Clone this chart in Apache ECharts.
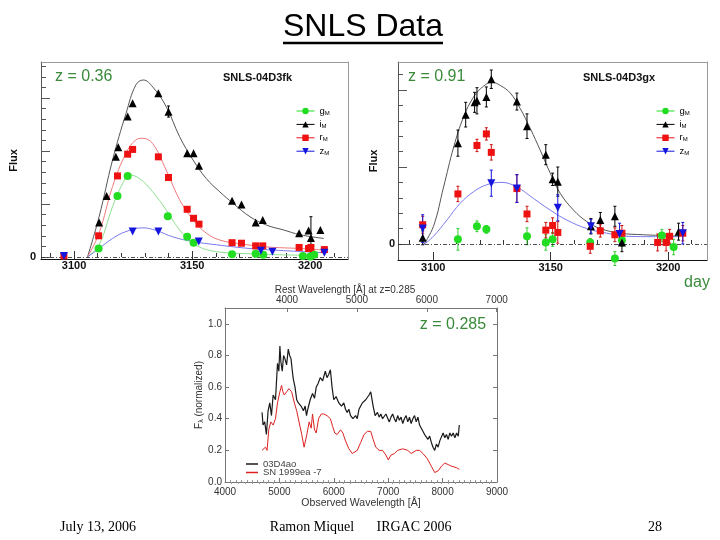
<!DOCTYPE html>
<html><head><meta charset="utf-8">
<script src="https://cdn.jsdelivr.net/npm/echarts@6/dist/echarts.min.js"></script>
<style>html,body{margin:0;padding:0;background:#fff}#c{width:720px;height:540px}</style>
</head><body><div id="c"></div>
<script>
// ---------- Panel 1: SNLS-04D3fk (z = 0.36) ----------
const p1_g = [[3110.4,1.6],[3118.4,11.5],[3122.7,15.3],[3139.7,7.7],[3147.9,3.8],[3150.6,2.7],[3166.9,0.5],[3176.9,0.6],[3180.1,0.4],[3196.9,0.2],[3200,0.1],[3201.7,0.4]];
const p1_i = [[3110.6,6.5],[3113.8,11.5],[3117.7,18.9],[3118.7,20.7],[3122.7,26.5],[3124.8,29.0],[3135.7,30.9],[3140.0,27.4],[3147.9,19.6],[3150.6,19.6],[3152.9,17.2],[3166.9,10.6],[3170.9,9.9],[3176.9,6.5],[3179.9,7.0],[3195.3,4.5],[3199.3,5.0],[3200.3,3.6],[3204.3,5.1]];
const p1_r = [[3095.7,0.2],[3110.4,4.0],[3118.4,15.3],[3122.7,19.4],[3124.8,20.3],[3135.7,18.9],[3140.0,15.0],[3147.9,9.0],[3150.6,7.3],[3152.9,6.2],[3166.9,2.7],[3170.9,2.6],[3176.9,2.1],[3179.9,2.1],[3195.3,1.8],[3199.3,1.6],[3200.3,1.8],[3206.0,1.4]];
const p1_z = [[3095.7,0.2],[3124.8,4.8],[3135.7,4.8],[3152.8,2.9],[3179.1,1.2],[3184.0,1.0],[3206.0,0.8]];
const p1_iErrBars = [[3140.0,26.4,28.5],[3200.3,-0.2,7.6]];
const p1_gFit = [[3105.7,0],[3110.6,2.3],[3116.3,9.5],[3120.6,13.9],[3123.4,15.5],[3127.7,14.8],[3133.3,12.3],[3139,8.9],[3144.7,5.1],[3150.4,2.6],[3156,1.4],[3164.5,0.8],[3175.9,0.6],[3188.7,0.4],[3202.8,0.3]];
const p1_iFit = [[3105.7,0],[3110.6,7.6],[3116.3,18.3],[3122,27.1],[3126.2,32.5],[3129.4,33.4],[3133.3,32.1],[3139,28.4],[3144.7,22.7],[3150.4,18.3],[3156,14.8],[3161.7,12.3],[3167.4,10.1],[3174.5,7.6],[3181.6,6.0],[3188.7,5.1],[3195.7,4.2],[3205.7,3.5]];
const p1_rFit = [[3105.7,0],[3110.6,4.5],[3116.3,13.3],[3122,19.6],[3126.2,22.1],[3129.1,22.4],[3133.3,21.4],[3139,16.4],[3144.7,10.8],[3150.4,7.0],[3156,4.5],[3161.7,3.2],[3170.2,2.5],[3181.6,1.9],[3195.7,1.6],[3206.4,1.3]];
const p1_zFit = [[3105.7,0],[3110.6,1.6],[3116.3,3.5],[3122,4.8],[3129.1,5.5],[3134.8,5.0],[3141.8,3.8],[3150.4,2.9],[3160.3,2.3],[3174.5,1.6],[3188.7,1.2],[3206.4,0.8]];

// ---------- Panel 2: SNLS-04D3gx (z = 0.91) ----------
const p2_g = [[3110.5,0.6],[3118.6,2.3],[3122.6,1.9],[3139.9,1.0],[3147.9,0.2],[3150.8,0.6],[3166.8,0.2],[3177.3,-1.9],[3180.3,0.5],[3197.3,1.1],[3202.3,-0.4]];
const p2_gErr = [1.4,0.7,0.5,1.1,1.0,0.9,0.5,0.9,0.8,0.8,1.0];
const p2_i = [[3095.5,0.8],[3110.5,13.1],[3113.8,16.8],[3117.6,18.4],[3118.6,18.6],[3122.6,19.1],[3124.7,21.4],[3135.6,18.5],[3139.9,15.3],[3147.9,11.6],[3150.8,8.4],[3153.0,8.1],[3167.1,2.3],[3171.1,3.1],[3177.3,3.6],[3180.3,0.2],[3204.4,1.6]];
const p2_iErr = [0.9,1.7,1.6,1.3,1.7,1.3,1.2,1.1,1.6,1.3,0.8,1.9,1.0,1.0,1.3,1.2,1.1];
const p2_r = [[3095.5,2.5],[3110.5,6.5],[3118.6,12.8],[3122.6,14.3],[3124.7,11.9],[3135.6,7.2],[3139.9,3.9],[3147.9,1.8],[3150.8,2.4],[3153.0,1.5],[3166.8,-0.3],[3171.1,1.7],[3177.3,1.2],[3180.3,1.4],[3195.5,0.2],[3199.1,0.2],[3200.6,1.0],[3206.2,1.4]];
const p2_rErr = [1.1,1.0,0.8,0.8,1.0,1.8,1.0,1.0,1.0,1.4,0.9,0.8,0.9,1.0,1.1,1.1,0.9,1.0];
const p2_z = [[3095.5,2.0],[3124.7,7.9],[3135.6,7.2],[3153.0,4.7],[3167.1,2.3],[3179.3,1.3],[3206.2,1.4]];
const p2_zErr = [1.8,1.7,1.8,1.7,0.9,1.4,1.4];
const p2_iFit = [[3095.9,-0.1],[3100.1,2.3],[3104.4,7.4],[3108.7,12.6],[3112.9,16.5],[3117.2,19.1],[3121.4,20.5],[3125,21.0],[3128.5,20.6],[3132.8,19.6],[3137,17.6],[3141.3,15.0],[3145.5,12.2],[3149.8,9.2],[3154,6.6],[3159.7,4.4],[3165.4,2.9],[3171.1,2.0],[3179.6,1.4],[3189.5,1.2],[3205.1,1.0]];
const p2_zFit = [[3095.9,-0.1],[3100.1,1.0],[3105.8,3.1],[3111.5,5.3],[3117.2,6.8],[3122.8,7.7],[3129.2,8.0],[3135.6,7.4],[3142.7,5.9],[3149.8,4.4],[3156.9,3.1],[3165.4,2.0],[3173.9,1.4],[3182.4,1.0],[3193.8,0.95],[3205.1,0.95]];

// ---------- Panel 3: spectrum (z = 0.285) ----------
const spec_03D4ao = [[4681,0.44],[4699,0.36],[4730,0.38],[4761,0.30],[4792,0.45],[4823,0.50],[4854,0.42],[4885,0.55],[4928,0.52],[4965,0.75],[4990,0.70],[5009,0.86],[5027,0.76],[5052,0.70],[5077,0.80],[5101,0.78],[5132,0.74],[5163,0.84],[5188,0.80],[5213,0.78],[5238,0.70],[5256,0.65],[5287,0.60],[5318,0.52],[5349,0.50],[5398,0.48],[5442,0.45],[5473,0.48],[5498,0.42],[5522,0.46],[5566,0.52],[5609,0.56],[5646,0.53],[5677,0.60],[5708,0.62],[5751,0.66],[5795,0.64],[5819,0.67],[5844,0.70],[5875,0.66],[5906,0.68],[5937,0.71],[5968,0.60],[5999,0.52],[6042,0.54],[6092,0.50],[6141,0.48],[6184,0.50],[6215,0.46],[6246,0.44],[6277,0.46],[6308,0.42],[6351,0.40],[6401,0.42],[6431,0.40],[6463,0.46],[6494,0.48],[6525,0.50],[6556,0.49],[6587,0.52],[6617,0.51],[6648,0.55],[6679,0.57],[6723,0.48],[6760,0.42],[6803,0.44],[6834,0.41],[6865,0.43],[6896,0.40],[6927,0.39],[6958,0.43],[6989,0.42],[7020,0.38],[7051,0.41],[7082,0.43],[7113,0.40],[7143,0.38],[7174,0.42],[7205,0.39],[7236,0.41],[7267,0.37],[7298,0.40],[7329,0.42],[7360,0.38],[7391,0.41],[7422,0.37],[7453,0.40],[7484,0.42],[7515,0.38],[7546,0.41],[7577,0.36],[7608,0.34],[7639,0.33],[7670,0.30],[7700,0.31],[7731,0.27],[7762,0.29],[7793,0.25],[7824,0.22],[7855,0.20],[7886,0.24],[7917,0.22],[7948,0.26],[7979,0.27],[8010,0.31],[8040,0.28],[8071,0.30],[8102,0.27],[8133,0.31],[8164,0.29],[8195,0.31],[8226,0.28],[8257,0.31],[8288,0.29],[8307,0.36]];
const spec_SN1999ea = [[4681,0.20],[4743,0.22],[4774,0.20],[4804,0.33],[4842,0.38],[4885,0.36],[4928,0.40],[4965,0.50],[5009,0.57],[5040,0.61],[5064,0.57],[5089,0.55],[5132,0.57],[5176,0.59],[5201,0.58],[5225,0.57],[5275,0.50],[5318,0.45],[5361,0.38],[5411,0.30],[5454,0.22],[5504,0.30],[5547,0.38],[5584,0.34],[5609,0.43],[5646,0.33],[5677,0.31],[5720,0.40],[5770,0.43],[5813,0.43],[5875,0.42],[5937,0.40],[5980,0.35],[6017,0.31],[6061,0.30],[6123,0.33],[6166,0.31],[6215,0.26],[6277,0.21],[6339,0.18],[6370,0.17],[6432,0.20],[6494,0.25],[6556,0.30],[6617,0.32],[6679,0.32],[6723,0.27],[6772,0.22],[6834,0.20],[6896,0.20],[6958,0.17],[7001,0.14],[7051,0.17],[7113,0.18],[7174,0.20],[7267,0.21],[7360,0.20],[7422,0.18],[7515,0.20],[7577,0.20],[7639,0.18],[7713,0.15],[7793,0.10],[7855,0.06],[7917,0.07],[7979,0.10],[8040,0.12],[8102,0.11],[8164,0.10],[8257,0.09],[8307,0.08]];

// ---------- tick labels ----------
const dayMajor = [3100,3150,3200];
const dayMinor = [3090,3110,3120,3130,3140,3160,3170,3180,3190,3210];
const p1_fluxMajor = [0,10,20,30];
const p1_fluxMinor = [2,4,6,8,12,14,16,18,22,24,26,28,32,34,36];
const p2_fluxMajor = [0,10,20];
const p2_fluxMinor = [2,4,6,8,12,14,16,18,22];
const specY = [0,0.2,0.4,0.6,0.8,1.0];
const restLabels = [4000,5000,6000,7000];
const zSpec = 0.285;
const restMinor = [];
for (let v = 3200; v <= 7000; v += 100) if (v % 1000) restMinor.push(v);

const SANS = '"Liberation Sans", Arial, sans-serif';
const SERIF = '"Liberation Serif", "Times New Roman", serif';
const GREEN = '#3a8a3a';
const C = {g:'#22dd22', i:'#000000', r:'#ee1111', z:'#1414dd'};
const CF = {g:'#8fe08f', i:'#555555', r:'#f07a7a', z:'#7a7aee'};

function xMain(grid, min, max, margin) {
  return {type:'value', gridIndex:grid, min, max, position:'bottom',
    axisLine:{show:true, onZero:false, lineStyle:{color:'#111', width:1}},
    axisTick:{show:true, inside:true, length:8, customValues:dayMajor, lineStyle:{color:'#333'}},
    axisLabel:{show:true, customValues:dayMajor, formatter:v=>String(v), fontWeight:'bold', fontSize:11, color:'#111', margin, fontFamily:SANS},
    splitLine:{show:false}};
}
function xMinorAx(grid, min, max) {
  return {type:'value', gridIndex:grid, min, max, position:'bottom',
    axisLine:{show:false}, axisLabel:{show:false}, splitLine:{show:false},
    axisTick:{show:true, inside:true, length:4, customValues:dayMinor, lineStyle:{color:'#333'}}};
}
function frameAx(kind, grid, min, max) {
  return {type:'value', gridIndex:grid, min, max, position: kind==='x' ? 'top' : 'right',
    axisLine:{show:true, onZero:false, lineStyle:{color:'#999', width:1}},
    axisTick:{show:false}, axisLabel:{show:false}, splitLine:{show:false}};
}
function yMain(grid, min, max, major, margin, gap) {
  return {type:'value', gridIndex:grid, min, max, position:'left',
    name:'Flux', nameLocation:'middle', nameGap:gap,
    nameTextStyle:{fontWeight:'bold', fontSize:11, color:'#111', fontFamily:SANS},
    axisLine:{show:true, onZero:false, lineStyle:{color:'#555', width:1}},
    axisTick:{show:true, inside:true, length:9, customValues:major, lineStyle:{color:'#555'}},
    axisLabel:{show:true, customValues:[0], formatter:v=>String(v), fontWeight:'bold', fontSize:11, color:'#111', margin, fontFamily:SANS},
    splitLine:{show:false}};
}
function yMinorAx(grid, min, max, minor) {
  return {type:'value', gridIndex:grid, min, max, position:'left',
    axisLine:{show:false}, axisLabel:{show:false}, splitLine:{show:false},
    axisTick:{show:true, inside:true, length:5, customValues:minor, lineStyle:{color:'#555'}}};
}
function pts(name, ax, data, sym, color, size, rot) {
  return {type:'line', name, xAxisIndex:ax, yAxisIndex:ax, data, symbol:sym, symbolSize:size, symbolRotate:rot||0,
    showSymbol:true, showAllSymbol:true, lineStyle:{width:0, opacity:0, color}, itemStyle:{color}, z:5, silent:true};
}
function fit(ax, data, color, zero) {
  const s = {type:'line', xAxisIndex:ax, yAxisIndex:ax, data, smooth:0.4, symbol:'none',
    lineStyle:{color, width:1}, z:2, silent:true};
  if (zero) s.markLine = {silent:true, symbol:'none', label:{show:false},
    lineStyle:{type:[4,2,1,2], color:'#222', width:0.8}, data:[{yAxis:0}]};
  return s;
}
function errBars(ax, bars, color) {
  return {type:'custom', xAxisIndex:ax, yAxisIndex:ax, z:3, silent:true, data:bars,
    encode:{x:0, y:[1,2]},
    renderItem:(params, api) => {
      const a = api.coord([api.value(0), api.value(1)]);
      const b = api.coord([api.value(0), api.value(2)]);
      const st = {stroke:color, lineWidth:1};
      return {type:'group', children:[
        {type:'line', shape:{x1:a[0], y1:a[1], x2:b[0], y2:b[1]}, style:st},
        {type:'line', shape:{x1:a[0]-1.5, y1:a[1], x2:a[0]+1.5, y2:a[1]}, style:st},
        {type:'line', shape:{x1:b[0]-1.5, y1:b[1], x2:b[0]+1.5, y2:b[1]}, style:st}]};
    }};
}
const toBars = (p, e) => p.map((d, k) => [d[0], d[1]-e[k], d[1]+e[k]]);

function bandLegend(left) {
  return {orient:'vertical', left, top:101, itemWidth:18, itemHeight:8, itemGap:3.4,
    data:['gM','iM','rM','zM'], selectedMode:false,
    lineStyle:{width:1, opacity:1},
    formatter: n => '{n|' + n[0] + '}{m|M}',
    textStyle:{fontFamily:SANS, color:'#000', fontSize:9,
      rich:{n:{fontSize:9.5, lineHeight:10, verticalAlign:'bottom'}, m:{fontSize:6, lineHeight:10, verticalAlign:'bottom'}}}};
}

const P1 = {xmin:3086, xmax:3216, ymin:-0.38, ymax:36.8};
const P2 = {xmin:3085, xmax:3216.5, ymin:-2.08, ymax:23.64};
const rMin = 4000/(1+zSpec), rMax = 9000/(1+zSpec);

const option = {
  animation:false,
  backgroundColor:'#ffffff',
  textStyle:{fontFamily:SANS},
  grid:[
    {left:41, top:62, width:307, height:197},
    {left:398, top:62, width:309, height:198},
    {left:225, top:308, width:272, height:174}
  ],
  xAxis:[
    xMain(0, P1.xmin, P1.xmax, 1), xMinorAx(0, P1.xmin, P1.xmax), frameAx('x', 0, P1.xmin, P1.xmax),
    xMain(1, P2.xmin, P2.xmax, 2), xMinorAx(1, P2.xmin, P2.xmax), frameAx('x', 1, P2.xmin, P2.xmax),
    {type:'value', gridIndex:2, min:4000, max:9000, interval:1000, position:'bottom',
      name:'Observed Wavelength [Å]', nameLocation:'middle', nameGap:16,
      nameTextStyle:{fontSize:10.5, color:'#333', fontFamily:SANS},
      axisLine:{show:true, onZero:false, lineStyle:{color:'#777'}},
      axisTick:{show:true, inside:true, length:4, lineStyle:{color:'#777'}},
      minorTick:{show:true, splitNumber:10, length:2, lineStyle:{color:'#999'}},
      axisLabel:{formatter:v=>String(v), fontSize:10, color:'#333', margin:5, fontFamily:SANS},
      splitLine:{show:false}},
    {type:'value', gridIndex:2, min:rMin, max:rMax, position:'top',
      axisLine:{show:true, onZero:false, lineStyle:{color:'#777'}},
      axisTick:{show:true, inside:true, length:4, customValues:restLabels, lineStyle:{color:'#777'}},
      axisLabel:{customValues:restLabels, formatter:v=>String(v), fontSize:10, color:'#333', margin:3, fontFamily:SANS},
      splitLine:{show:false}},
    {type:'value', gridIndex:2, min:rMin, max:rMax, position:'top',
      axisLine:{show:false}, axisLabel:{show:false}, splitLine:{show:false},
      axisTick:{show:true, inside:true, length:2, customValues:restMinor, lineStyle:{color:'#999'}}}
  ],
  yAxis:[
    yMain(0, P1.ymin, P1.ymax, p1_fluxMajor, 5, 22), yMinorAx(0, P1.ymin, P1.ymax, p1_fluxMinor), frameAx('y', 0, P1.ymin, P1.ymax),
    yMain(1, P2.ymin, P2.ymax, p2_fluxMajor, 3, 19), yMinorAx(1, P2.ymin, P2.ymax, p2_fluxMinor), frameAx('y', 1, P2.ymin, P2.ymax),
    {type:'value', gridIndex:2, min:0, max:1.1, position:'left',
      name:'{a|F}{s|λ}{a| (normalized)}', nameLocation:'middle', nameGap:20,
      nameTextStyle:{color:'#333', fontSize:10, fontFamily:SANS,
        rich:{a:{fontSize:10, color:'#333', fontFamily:SANS}, s:{fontSize:7, color:'#333', verticalAlign:'bottom', fontFamily:SANS}}},
      axisLine:{show:true, onZero:false, lineStyle:{color:'#777'}},
      axisTick:{show:true, inside:true, length:4, customValues:specY, lineStyle:{color:'#777'}},
      axisLabel:{customValues:specY, formatter:v=>v.toFixed(1), fontSize:10, color:'#333', margin:3, fontFamily:SANS},
      splitLine:{show:false}},
    {type:'value', gridIndex:2, min:0, max:1.1, position:'right',
      axisLine:{show:true, onZero:false, lineStyle:{color:'#777'}},
      axisTick:{show:true, inside:true, length:4, customValues:specY, lineStyle:{color:'#777'}},
      axisLabel:{show:false}, splitLine:{show:false}}
  ],
  legend:[
    bandLegend(291),
    bandLegend(651),
    {orient:'vertical', left:241, top:454, itemWidth:12, itemHeight:1.5, itemGap:-1.5, selectedMode:false, icon:'rect',
      data:['03D4ao','SN 1999ea -7'],
      textStyle:{fontFamily:SANS, fontSize:9.5, color:'#444', lineHeight:8}}
  ],
  series:[
    // panel 1 fits
    fit(0, p1_gFit, CF.g, true), fit(0, p1_iFit, CF.i), fit(0, p1_rFit, CF.r), fit(0, p1_zFit, CF.z),
    errBars(0, p1_iErrBars, '#000'),
    pts('gM', 0, p1_g, 'circle', C.g, 8),
    pts('iM', 0, p1_i, 'triangle', C.i, 8),
    pts('rM', 0, p1_r, 'rect', C.r, 7),
    pts('zM', 0, p1_z, 'triangle', C.z, 8, 180),
    // panel 2
    fit(3, p2_iFit, CF.i, true), fit(3, p2_zFit, CF.z),
    errBars(3, toBars(p2_g, p2_gErr), '#33cc33'),
    errBars(3, toBars(p2_i, p2_iErr), '#000'),
    errBars(3, toBars(p2_r, p2_rErr), '#cc1111'),
    errBars(3, toBars(p2_z, p2_zErr), '#1414dd'),
    pts('gM', 3, p2_g, 'circle', C.g, 8),
    pts('iM', 3, p2_i, 'triangle', C.i, 8),
    pts('rM', 3, p2_r, 'rect', C.r, 7),
    pts('zM', 3, p2_z, 'triangle', C.z, 8, 180),
    // spectrum
    {type:'line', name:'03D4ao', xAxisIndex:6, yAxisIndex:6, data:spec_03D4ao, symbol:'none',
      lineStyle:{color:'#1a1a1a', width:1.2}, itemStyle:{color:'#1a1a1a'}, z:3, silent:true},
    {type:'line', name:'SN 1999ea -7', xAxisIndex:6, yAxisIndex:6, data:spec_SN1999ea, symbol:'none',
      lineStyle:{color:'#dd2222', width:1}, itemStyle:{color:'#dd2222'}, z:2, silent:true}
  ],
  graphic:[
    {type:'text', x:363, y:27, style:{text:'SNLS Data', font:'32px ' + SANS, fill:'#000', align:'center', verticalAlign:'middle'}},
    {type:'line', shape:{x1:283, y1:43, x2:443, y2:43}, style:{stroke:'#000', lineWidth:2.5}},
    {type:'text', x:55, y:77, style:{text:'z = 0.36', font:'16px ' + SANS, fill:GREEN, align:'left', verticalAlign:'middle'}},
    {type:'text', x:408, y:77, style:{text:'z = 0.91', font:'16px ' + SANS, fill:GREEN, align:'left', verticalAlign:'middle'}},
    {type:'text', x:223, y:78, style:{text:'SNLS-04D3fk', font:'bold 11px ' + SANS, fill:'#111', align:'left', verticalAlign:'middle'}},
    {type:'text', x:583, y:78, style:{text:'SNLS-04D3gx', font:'bold 11px ' + SANS, fill:'#111', align:'left', verticalAlign:'middle'}},
    {type:'text', x:697, y:283, style:{text:'day', font:'16px ' + SANS, fill:GREEN, align:'center', verticalAlign:'middle'}},
    {type:'text', x:453, y:325, style:{text:'z = 0.285', font:'16px ' + SANS, fill:GREEN, align:'center', verticalAlign:'middle'}},
    {type:'text', x:345, y:290, style:{text:'Rest Wavelength [Å] at z=0.285', font:'10px ' + SANS, fill:'#333', align:'center', verticalAlign:'middle'}},
    {type:'text', x:98, y:527, style:{text:'July 13, 2006', font:'14px ' + SERIF, fill:'#000', align:'center', verticalAlign:'middle'}},
    {type:'text', x:312, y:527, style:{text:'Ramon Miquel', font:'14px ' + SERIF, fill:'#000', align:'center', verticalAlign:'middle'}},
    {type:'text', x:414, y:527, style:{text:'IRGAC 2006', font:'14px ' + SERIF, fill:'#000', align:'center', verticalAlign:'middle'}},
    {type:'text', x:655, y:527, style:{text:'28', font:'14px ' + SERIF, fill:'#000', align:'center', verticalAlign:'middle'}}
  ]
};
const chart = echarts.init(document.getElementById('c'), null, {renderer:'canvas'});
chart.setOption(option);
</script></body></html>
